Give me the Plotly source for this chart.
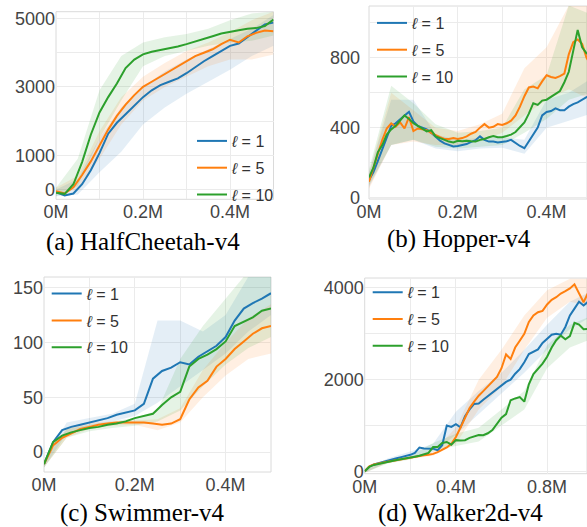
import plotly.graph_objects as go

W, H = 587, 527

# ---------------- data ----------------
LABELS = ["<i>ℓ</i> = 1", "<i>ℓ</i> = 5", "<i>ℓ</i> = 10"]
COLORS = ["#1f77b4", "#ff7f0e", "#2ca02c"]
FILLS = ["rgba(31,119,180,0.12)", "rgba(255,127,14,0.12)", "rgba(44,160,44,0.12)"]

# (a) HalfCheetah-v4
X_A = [round(0.02 * i, 2) for i in range(26)]
A_L1 = [-80, -180, -120, 150, 560, 1060, 1630, 1950, 2200, 2450, 2700, 2900, 3050, 3150, 3250,
        3400, 3580, 3750, 3900, 4050, 4200, 4270, 4450, 4650, 4830, 4880]
A_L5 = [-50, -120, 60, 420, 820, 1280, 1750, 2150, 2480, 2760, 3000, 3150, 3300, 3470, 3620,
        3760, 3900, 4000, 4100, 4250, 4380, 4300, 4480, 4580, 4650, 4630]
A_L10 = [-100, -130, 150, 800, 1600, 2250, 2700, 3100, 3550, 3800, 3950, 4030, 4080, 4120, 4180,
         4250, 4320, 4400, 4480, 4560, 4620, 4660, 4700, 4720, 4780, 4970]
XB_A = [0, 0.05, 0.1, 0.15, 0.2, 0.25, 0.3, 0.35, 0.4, 0.45, 0.5]
A_L1_LO = [-200, -150, 500, 1100, 1900, 2400, 2800, 3150, 3500, 3900, 4200]
A_L1_HI = [0, 300, 1500, 2400, 3000, 3450, 3800, 4100, 4400, 4700, 5100]
A_L5_LO = [-150, 0, 900, 1900, 2600, 3000, 3300, 3600, 3800, 3800, 3950]
A_L5_HI = [50, 400, 1700, 2700, 3300, 3700, 4050, 4300, 4600, 4950, 5200]
A_L10_LO = [-200, 100, 1500, 2600, 3600, 3900, 4050, 4200, 4300, 4350, 4500]
A_L10_HI = [50, 900, 2900, 3900, 4300, 4450, 4550, 4700, 4950, 5150, 5200]

# (b) Hopper-v4
X_B = [round(0.01 * i, 2) for i in range(51)]
B_L1 = [100, 145, 210, 280, 350, 410, 425, 450, 470, 490, 435, 410, 400, 390, 370, 345, 325, 310,
        300, 292, 295, 300, 306, 318, 328, 350, 330, 320, 320, 315, 318, 322, 330, 310, 295, 282,
        320, 355, 400, 470, 490, 495, 510, 500, 500, 520, 535, 545, 560, 578, 590]
B_L5 = [90, 170, 250, 330, 395, 425, 405, 430, 395, 460, 380, 395, 390, 385, 370, 355, 345, 335,
        335, 340, 335, 340, 350, 365, 375, 400, 420, 400, 405, 420, 415, 425, 440, 470, 520, 580,
        630, 635, 625, 665, 700, 690, 685, 695, 710, 820, 890, 905, 880, 800, 760]
B_L10 = [115, 170, 260, 300, 360, 390, 410, 440, 470, 450, 425, 410, 395, 378, 385, 350, 340, 330,
         320, 315, 325, 322, 325, 322, 320, 330, 335, 345, 352, 345, 345, 352, 360, 375, 400, 430,
         480, 540, 530, 555, 560, 575, 590, 610, 660, 720, 840, 960, 860, 825, 820]
XB_B = [0, 0.05, 0.1, 0.15, 0.2, 0.25, 0.3, 0.35, 0.4, 0.45, 0.5]
B_L1_LO = [60, 300, 330, 280, 265, 280, 285, 250, 400, 440, 480]
B_L1_HI = [140, 560, 560, 360, 330, 340, 345, 330, 560, 600, 680]
B_L5_LO = [50, 300, 320, 300, 300, 320, 370, 470, 560, 620, 560]
B_L5_HI = [140, 600, 500, 400, 380, 420, 480, 740, 860, 1100, 1100]
B_L10_LO = [70, 300, 330, 290, 280, 290, 300, 370, 450, 560, 600]
B_L10_HI = [160, 640, 540, 420, 370, 380, 400, 620, 700, 1100, 1050]

# (c) Swimmer-v4
X_C = [round(0.02 * i, 2) for i in range(26)]
C_L1 = [-11, 9, 20, 23, 25, 27, 29, 31, 34, 36, 38, 44, 67, 74, 77, 82, 80, 87, 92, 97, 105, 120,
        131, 136, 140, 145]
C_L5 = [-11, 6, 13, 17, 21, 23, 25, 26, 27, 27, 27, 27, 26, 25, 26, 30, 48, 59, 65, 78, 85, 94,
        101, 108, 113, 115]
C_L10 = [-11, 9, 15, 18, 20, 22, 23, 25, 26, 28, 31, 33, 35, 43, 50, 55, 78, 85, 89, 94, 101,
         115, 119, 123, 129, 131]
XB_C = [0, 0.05, 0.1, 0.15, 0.2, 0.25, 0.3, 0.35, 0.4, 0.45, 0.5]
C_L1_LO = [-14, 17, 24, 28, 33, 45, 60, 75, 90, 110, 125]
C_L1_HI = [-8, 27, 31, 35, 44, 120, 120, 110, 125, 160, 165]
C_L5_LO = [-14, 13, 21, 24, 25, 20, 27, 50, 70, 85, 90]
C_L5_HI = [-8, 22, 27, 28, 29, 30, 40, 75, 100, 122, 135]
C_L10_LO = [-14, 13, 19, 22, 24, 28, 38, 60, 80, 95, 105]
C_L10_HI = [-8, 21, 25, 28, 31, 38, 85, 115, 140, 165, 165]

# (d) Walker2d-v4
X_D = [round(0.02 * i, 2) for i in range(51)]
D_L1 = [0, 100, 150, 180, 210, 235, 260, 285, 310, 330, 360, 400, 520, 500, 495, 495, 460, 570,
        1000, 970, 1030, 960, 1200, 1350, 1470, 1480, 1560, 1640, 1720, 1800, 1880, 1950, 2000,
        2130, 2230, 2380, 2560, 2610, 2660, 2800, 2900, 2980, 3000, 2980, 3150, 3400, 3550, 3700,
        3620, 3700, 3650]
D_L5 = [0, 110, 150, 175, 195, 210, 225, 245, 260, 280, 300, 320, 340, 350, 360, 380, 420, 470,
        520, 600, 750, 950, 1150, 1380, 1520, 1650, 1750, 1850, 1950, 2060, 2250, 2550, 2450,
        2700, 2850, 3000, 3260, 3400, 3470, 3500, 3640, 3740, 3800, 3880, 3930, 3990, 4080, 3900,
        3690, 3900, 3920]
D_L10 = [0, 95, 140, 165, 190, 205, 225, 245, 260, 280, 300, 320, 340, 370, 400, 530, 530, 620,
         640, 580, 680, 670, 680, 730, 760, 790, 786, 830, 900, 1030, 1170, 1250, 1550, 1590,
         1620, 1520, 1900, 2120, 2230, 2350, 2500, 2700, 2860, 2960, 2880, 2950, 3240, 3200, 3100,
         3110, 3120]
XB_D = [0, 0.1, 0.2, 0.3, 0.4, 0.5, 0.6, 0.7, 0.8, 0.9, 1.0]
D_L1_LO = [-30, 200, 300, 420, 800, 1250, 1700, 2150, 2650, 3100, 3400]
D_L1_HI = [30, 280, 430, 600, 1300, 1750, 2150, 2650, 3200, 3700, 3950]
D_L5_LO = [-30, 180, 270, 340, 600, 1350, 1850, 2650, 3350, 3700, 3600]
D_L5_HI = [30, 240, 330, 430, 950, 2000, 2650, 3400, 3950, 4200, 4200]
D_L10_LO = [-30, 170, 260, 450, 550, 650, 1000, 1350, 2250, 2700, 2900]
D_L10_HI = [30, 240, 340, 620, 820, 950, 1350, 1750, 2750, 3200, 3400]

CAPTIONS = ["(a) HalfCheetah-v4", "(b) Hopper-v4", "(c) Swimmer-v4", "(d) Walker2d-v4"]

# ---------------- layout geometry (pixels) ----------------
PANELS = [
    dict(x=X_A, ys=[A_L1, A_L5, A_L10], bx=XB_A,
         bands=[(A_L1_LO, A_L1_HI), (A_L5_LO, A_L5_HI), (A_L10_LO, A_L10_HI)],
         px=(56, 273.5), py=(11.7, 199.3), xr=[0, 0.5], yr=[-290, 5200],
         xt=[0, 0.1, 0.2, 0.3, 0.4], xtt=["0M", "", "0.2M", "", "0.4M"],
         yt=[0, 1000, 2000, 3000, 4000, 5000], ytt=["0", "1000", "", "3000", "", "5000"],
         leg=(192, 138), cap=(143, 242), ystand=0),
    dict(x=X_B, ys=[B_L1, B_L5, B_L10], bx=XB_B,
         bands=[(B_L1_LO, B_L1_HI), (B_L5_LO, B_L5_HI), (B_L10_LO, B_L10_HI)],
         px=(369, 587), py=(6, 199), xr=[0, 0.491], yr=[-9, 1097],
         xt=[0, 0.1, 0.2, 0.3, 0.4], xtt=["0M", "", "0.2M", "", "0.4M"],
         yt=[0, 200, 400, 600, 800, 1000], ytt=["0", "", "400", "", "800", ""],
         leg=(372, 20), cap=(459, 239), ystand=8),
    dict(x=X_C, ys=[C_L1, C_L5, C_L10], bx=XB_C,
         bands=[(C_L1_LO, C_L1_HI), (C_L5_LO, C_L5_HI), (C_L10_LO, C_L10_HI)],
         px=(44, 271), py=(277, 472), xr=[0, 0.5], yr=[-18.2, 159.8],
         xt=[0, 0.1, 0.2, 0.3, 0.4], xtt=["0M", "", "0.2M", "", "0.4M"],
         yt=[0, 50, 100, 150], ytt=["0", "50", "100", "150"],
         leg=(46.7, 290.7), cap=(142.5, 513), ystand=0),
    dict(x=X_D, ys=[D_L1, D_L5, D_L10], bx=XB_D,
         bands=[(D_L1_LO, D_L1_HI), (D_L5_LO, D_L5_HI), (D_L10_LO, D_L10_HI)],
         px=(364.7, 587), py=(278, 473.7), xr=[0, 0.975], yr=[-52, 4218],
         xt=[0, 0.2, 0.4, 0.6, 0.8], xtt=["0M", "", "0.4M", "", "0.8M"],
         yt=[0, 1000, 2000, 3000, 4000], ytt=["0", "", "2000", "", "4000"],
         leg=(367.7, 289.3), cap=(460, 513), ystand=0),
]

LEG_OFFSET = 14   # px from legend top to first entry centre

fig = go.Figure()
annotations, shapes = [], []
layout = dict(
    width=W, height=H, margin=dict(l=0, r=0, t=0, b=0, autoexpand=False),
    paper_bgcolor="white", plot_bgcolor="white", showlegend=True,
)

for i, p in enumerate(PANELS):
    n = "" if i == 0 else str(i + 1)
    xa, ya = "x" + n, "y" + n
    legname = "legend" + n
    for k in range(3):
        lo, hi = p["bands"][k]
        fig.add_trace(go.Scatter(
            x=p["bx"] + p["bx"][::-1], y=hi + lo[::-1], fill="toself",
            fillcolor=FILLS[k], line=dict(width=0), mode="lines",
            hoverinfo="skip", showlegend=False, xaxis=xa, yaxis=ya))
    for k in range(3):
        fig.add_trace(go.Scatter(
            x=p["x"], y=p["ys"][k], mode="lines", name=LABELS[k],
            line=dict(color=COLORS[k], width=2), legendgroup=f"g{i}{k}",
            legend=legname, xaxis=xa, yaxis=ya))
    common = dict(showgrid=True, gridcolor="#ebebeb", gridwidth=1, zeroline=False,
                  showline=False, ticks="", automargin=False,
                  tickfont=dict(family="Liberation Sans", size=18, color="#444"))
    ybot = 1 - p["py"][1] / H
    layout["xaxis" + n] = dict(
        domain=[p["px"][0] / W, p["px"][1] / W], range=p["xr"], anchor=ya,
        tickmode="array", tickvals=p["xt"], ticktext=p["xtt"], **common)
    layout["yaxis" + n] = dict(
        domain=[ybot, 1 - p["py"][0] / H], range=p["yr"], anchor=xa,
        tickmode="array", tickvals=p["yt"], ticktext=p["ytt"],
        ticklabelstandoff=p["ystand"], **common)
    shapes.append(dict(type="rect", xref=xa + " domain", yref=ya + " domain",
                       x0=0, x1=1, y0=0, y1=1, line=dict(color="#dadada", width=1),
                       fillcolor="rgba(0,0,0,0)", layer="below"))
    layout[legname] = dict(
        x=p["leg"][0] / W, y=1 - (p["leg"][1] - LEG_OFFSET) / H, xanchor="left", yanchor="top",
        bgcolor="rgba(0,0,0,0)", borderwidth=0, tracegroupgap=3,
        font=dict(family="Liberation Sans", size=16, color="#333"))
    annotations.append(dict(
        text=CAPTIONS[i], x=p["cap"][0] / W, y=1 - p["cap"][1] / H, xref="paper", yref="paper",
        xanchor="center", yanchor="middle", showarrow=False,
        font=dict(family="Liberation Serif", size=25, color="black")))

layout["annotations"] = annotations
layout["shapes"] = shapes
fig.update_layout(**layout)
fig.write_html("out.html", config={"displayModeBar": False},
               post_script="document.body.style.margin='0';document.body.style.overflow='hidden';")
